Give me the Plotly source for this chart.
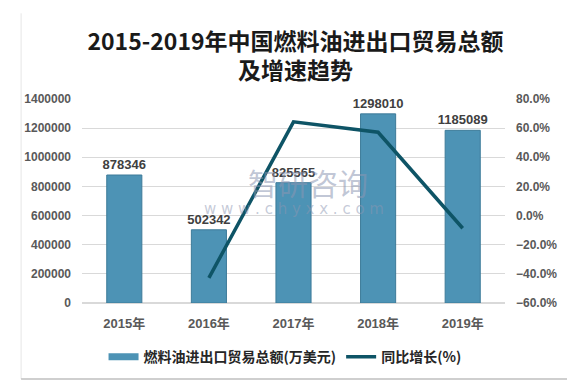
import plotly.graph_objects as go

years = ["2015年", "2016年", "2017年", "2018年", "2019年"]
trade_total = [878346, 502342, 825565, 1298010, 1185089]
growth = [None, -0.428, 0.643, 0.572, -0.087]

bar_name = "燃料油进出口贸易总额(万美元)"
line_name = "同比增长(%)"

BAR_COLOR = "#4d93b5"
LINE_COLOR = "#0e5466"
TICK_FONT = "Liberation Sans, Noto Sans CJK SC"

fig = go.Figure()
fig.add_trace(go.Bar(
    x=years, y=trade_total, name=bar_name, showlegend=False,
    marker=dict(color=BAR_COLOR, line=dict(color="#3d7b99", width=1)),
    text=[f"<b>{v}</b>" for v in trade_total], textposition="outside",
    textfont=dict(size=13, color="#404040", family="Liberation Sans"),
    cliponaxis=False, constraintext="none",
))
# legend entry for the bars, drawn as a wide flat swatch like the reference
fig.add_trace(go.Scatter(
    x=[None], y=[None], name=bar_name, mode="lines",
    line=dict(color=BAR_COLOR, width=7), showlegend=True,
))
fig.add_trace(go.Scatter(
    x=years, y=growth, name=line_name, yaxis="y2", mode="lines",
    line=dict(color=LINE_COLOR, width=3.5), connectgaps=False,
))

# watermark
fig.add_annotation(
    x=0.535, y=0.593, xref="paper", yref="paper",
    text="智研咨询", showarrow=False,
    font=dict(size=30, color="rgba(140,150,178,0.55)", family="Noto Sans CJK SC"),
)
fig.add_annotation(
    x=0.50, y=0.46, xref="paper", yref="paper",
    text="w w w . c h y x x . c o m", showarrow=False,
    font=dict(size=15, color="rgba(140,150,178,0.5)", family="DejaVu Sans"),
)

fig.update_layout(
    width=575, height=388,
    margin=dict(l=74, r=78, t=91, b=93),
    paper_bgcolor="white", plot_bgcolor="white",
    title=dict(
        text="<b>2015-2019年中国燃料油进出口贸易总额<br>及增速趋势</b>",
        x=0.5, xanchor="center", y=0.893, yanchor="middle",
        font=dict(size=23, color="#1a1a1a", family="Noto Sans CJK SC"),
    ),
    bargap=0.585,
    showlegend=True,
    legend=dict(
        orientation="h", x=0.48, xanchor="center", y=-0.265, yanchor="middle",
        font=dict(size=14, color="#262626", family="Noto Sans CJK SC", weight="bold"),
        traceorder="normal", itemwidth=30,
    ),
    xaxis=dict(
        tickfont=dict(size=13, color="#595959", family=TICK_FONT, weight="bold"),
        showline=False, ticks="", showgrid=False,
        ticklabelstandoff=11,
    ),
    yaxis=dict(
        range=[0, 1400000], dtick=200000, tickformat="d",
        tickfont=dict(size=12, color="#595959", family="Liberation Sans", weight="bold"),
        gridcolor="#d9d9d9", zeroline=True, zerolinecolor="#d9d9d9",
        ticklabelstandoff=10,
    ),
    yaxis2=dict(
        overlaying="y", side="right", range=[-0.6, 0.8], dtick=0.2,
        tickformat=".1%", showgrid=False, zeroline=False,
        tickfont=dict(size=12, color="#595959", family="Liberation Sans", weight="bold"),
        ticklabelstandoff=10,
    ),
)

fig.add_shape(type="line", xref="paper", yref="paper", x0=-0.144, x1=-0.144, y0=-0.373, y1=1.42,
              line=dict(color="#e6e6e6", width=1))
fig.add_shape(type="line", xref="paper", yref="paper", x0=-0.144, x1=1.2, y0=-0.373, y1=-0.373,
              line=dict(color="#bfbfbf", width=1.5))

fig.write_html("out.html")
